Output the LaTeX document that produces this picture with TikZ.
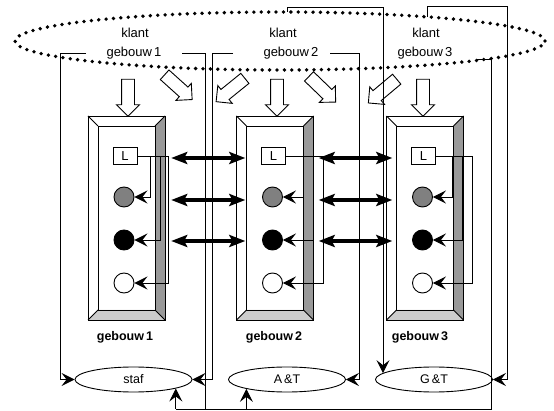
\documentclass[tikz,border=0pt]{standalone}
\usepackage{fontspec}
\setmainfont{Liberation Sans}
\usetikzlibrary{arrows.meta,shapes.geometric,shapes.arrows,calc}

\tikzset{
  wire/.style={line width=0.9pt},
  arr/.style={wire, -{Stealth[length=13pt,width=13pt,inset=5pt]}},
  dbl/.style={line width=4.2pt, {Stealth[length=16pt,width=12pt,inset=3pt]}-{Stealth[length=16pt,width=12pt,inset=3pt]}},
  hollow/.style={single arrow, draw, fill=white, line width=0.9pt, minimum height=37pt,
    inner xsep=0pt, inner ysep=6pt, single arrow head extend=5pt, single arrow head indent=0pt},
  lbl/.style={font=\fontsize{13}{15}\selectfont, inner sep=1pt},
  blbl/.style={font=\fontsize{12.5}{14}\selectfont\bfseries, inner sep=1pt},
  dept/.style={draw, ellipse, wire, minimum width=117pt, minimum height=25pt, inner sep=0pt,
    font=\fontsize{12.5}{14}\selectfont},
  ringnode/.style={circle, draw, wire, minimum size=20pt, inner sep=0pt},
  lbox/.style={draw, wire, fill=white, minimum width=24pt, minimum height=17pt, inner sep=0pt,
    font=\fontsize{13}{15}\selectfont},
}
\definecolor{bevdark}{HTML}{999999}
\definecolor{bevlight}{HTML}{CCCCCC}
\definecolor{midgray}{HTML}{808080}

% building: #1 name, #2 centre x, #3-#5 horizontal run of the three wires
\newcommand\gebouwblok[5]{%
  \begin{scope}[shift={(#2,218)}]
    \fill[white] (-38.5,-102) rectangle (38.5,102);
    \fill[bevdark] (38.5,-102) -- (38.5,102) -- (28.5,92) -- (28.5,-92) -- cycle;
    \fill[bevlight] (-38.5,102) -- (38.5,102) -- (28.5,92) -- (-28.5,92) -- cycle;
    \draw[wire] (-38.5,-102) rectangle (38.5,102);
    \draw[wire] (-28.5,-92) rectangle (28.5,92);
    \draw[wire] (-38.5,-102) -- (-28.5,-92) (38.5,-102) -- (28.5,-92)
                (-38.5,102) -- (-28.5,92) (38.5,102) -- (28.5,92);
    \node[minimum width=77pt, minimum height=204pt, inner sep=0pt] (#1) at (0,0) {};
    \node[lbox] (lb#1) at (-1.5,-62) {L};
    \node[ringnode, fill=midgray] (ca#1) at (-2.5,-21) {};
    \node[ringnode, fill=black] (cb#1) at (-2.5,22) {};
    \node[ringnode, fill=white] (cc#1) at (-2.5,65) {};
    \draw[arr] (lb#1.east) -- ++(#3,0) |- (ca#1.east);
    \draw[arr] (lb#1.east) -- ++(#4,0) |- (cb#1.east);
    \draw[arr] (lb#1.east) -- ++(#5,0) |- (cc#1.east);
  \end{scope}}

\begin{document}
\begin{tikzpicture}[x=1pt,y=-1pt]
\useasboundingbox (0,0) rectangle (554,411);

% customer ring
\node[draw, ellipse, minimum width=530pt, minimum height=58pt, inner sep=0pt,
      line width=3.8pt, dash pattern=on 0pt off 7.4pt, line cap=round] (kl) at (280,41) {};

\node[lbl] (kt1) at (135,33) {klant};
\node[lbl] (kt2) at (283,33) {klant};
\node[lbl] (kt3) at (426,33) {klant};
\node[lbl] (ge1) at (134,53) {gebouw\,1};
\node[lbl] (ge2) at (291,53) {gebouw\,2};
\node[lbl] (ge3) at (425,53) {gebouw\,3};

% buildings
\gebouwblok{b1}{126.5}{13}{23}{31}
\gebouwblok{b2}{275}{17}{27}{37}
\gebouwblok{b3}{425}{16}{26}{36}

\node[blbl] (bl1) at (125,337) {gebouw\,1};
\node[blbl] (bl2) at (274,337) {gebouw\,2};
\node[blbl] (bl3) at (420,337) {gebouw\,3};

% links between buildings
\foreach \dy in {-60,-18,23} {
  \draw[dbl] ([shift={(6,\dy)}]b1.east) -- ([shift={(9,\dy)}]b2.west);
  \draw[dbl] ([shift={(5,\dy)}]b2.east) -- ([shift={(6,\dy)}]b3.west);
}

% hollow arrows from the customers
\node[hollow, rotate=-90] (hd1) at (128,94.5) {};
\node[hollow, rotate=-90] (hd2) at (277,94.5) {};
\node[hollow, rotate=-90] (hd3) at (423,94.5) {};
\node[hollow, rotate=-42] (hx1) at (176,85) {};
\node[hollow, rotate=-141] (hx2) at (233,88) {};
\node[hollow, rotate=-44] (hx3) at (320,87) {};
\node[hollow, rotate=-140] (hx4) at (385,89) {};

% departments
\node[dept] (staf) at (133.5,379.5) {staf};
\node[dept] (at) at (287,379.5) {A\,\&T};
\node[dept] (gt) at (434,379.5) {G\,\&T};

% reporting lines
\coordinate (g1l) at (86,53);
\coordinate (g1r) at (182,53);
\coordinate (g2l) at (233,53);
\coordinate (g2r) at (330,53);
\coordinate (g3r) at (476,59);
\coordinate (k2) at (287,12);
\coordinate (t2) at (383,7);
\coordinate (k3) at (427,17);
\coordinate (t3) at (507,6);
\coordinate (j1) at (205,409);

\draw[arr] (g1l) -- ++(-26,0) |- (staf.west);
\draw[wire] (g1r) -| (j1);
\draw[arr] (g2l) -- ++(-21,0) |- (staf.east);
\draw[arr] (g2r) -- ++(29,0) |- (at.east);
\draw[arr] (k2) |- (t2) -- (t2 |- gt.173);
\draw[arr] (k3) |- (t3) |- (gt.east);
\draw[wire] (g3r) -- ++(15,0) |- (staf.-12 |- j1);
\draw[arr] (staf.-12 |- j1) -- (staf.-12);
\draw[arr] (at.-167 |- j1) -- (at.-167);
\end{tikzpicture}
\end{document}
